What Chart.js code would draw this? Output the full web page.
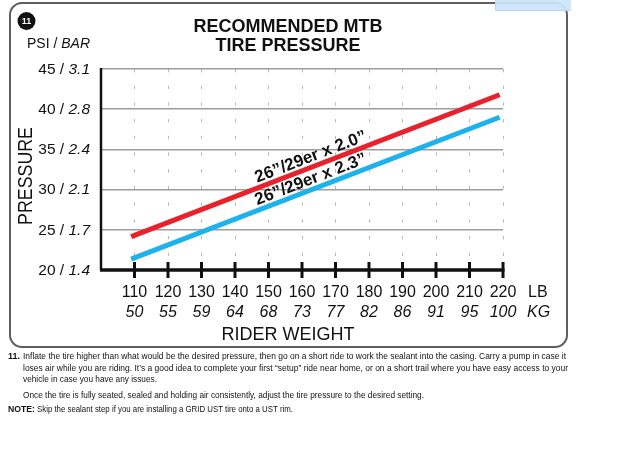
<!DOCTYPE html>
<html>
<head>
    <title>Recommended MTB Tire Pressure</title>
    <script src="https://cdn.jsdelivr.net/npm/chart.js"></script>
    <style>
        body { margin: 0; background: #fff; }
    </style>
</head>
<body>
    <canvas id="myChart" width="640" height="456"></canvas>
    <script>
        // values
        const weightsLb = [109, 219];
        const pressure20 = [24.15, 41.8];   // 26"/29er x 2.0"
        const pressure23 = [21.35, 39.0];   // 26"/29er x 2.3"
        const seriesLabels = ['26”/29er x 2.0”', '26”/29er x 2.3”'];
        const lbTicks = [110, 120, 130, 140, 150, 160, 170, 180, 190, 200, 210, 220];
        const kgTicks = ['50', '55', '59', '64', '68', '73', '77', '82', '86', '91', '95', '100'];
        const psiTicks = [20, 25, 30, 35, 40, 45];
        const barTicks = ['1.4', '1.7', '2.1', '2.4', '2.8', '3.1'];

        const notes = [
            'Inflate the tire higher than what would be the desired pressure, then go on a short ride to work the sealant into the casing. Carry a pump in case it',
            'loses air while you are riding. It’s a good idea to complete your first “setup” ride near home, or on a short trail where you have easy access to your',
            'vehicle in case you have any issues.',
            'Once the tire is fully seated, sealed and holding air consistently, adjust the tire pressure to the desired setting.',
            'Skip the sealant step if you are installing a GRID UST tire onto a UST rim.'
        ];

        const FONT = '"Liberation Sans", Arial, sans-serif';
        const NARROW = '"Liberation Sans Narrow", "Liberation Sans", Arial, sans-serif';

        // draws "normal + italic" pieces aligned at x
        function mixedText(c, normal, italic, x, y, size, align) {
            c.font = size + 'px ' + FONT;
            const w1 = c.measureText(normal).width;
            c.font = 'italic ' + size + 'px ' + FONT;
            const w2 = c.measureText(italic).width;
            let start = x;
            if (align === 'right') start = x - w1 - w2;
            if (align === 'center') start = x - (w1 + w2) / 2;
            c.textAlign = 'left';
            c.font = size + 'px ' + FONT;
            c.fillText(normal, start, y);
            c.font = 'italic ' + size + 'px ' + FONT;
            c.fillText(italic, start + w1, y);
        }

        const decor = {
            id: 'decor',
            beforeDraw(chart) {
                const c = chart.ctx;
                c.save();
                // frame
                c.strokeStyle = '#5e5e5e';
                c.lineWidth = 2;
                c.beginPath();
                c.roundRect(10, 3, 557, 344, 12);
                c.stroke();
                // little blue tab top right
                c.fillStyle = 'rgba(204, 228, 251, 0.93)';
                c.fillRect(495, 0, 76, 10.5);
                c.strokeStyle = '#bcd5ee';
                c.lineWidth = 1;
                c.beginPath();
                c.moveTo(495.5, 0);
                c.lineTo(495.5, 10.5);
                c.lineTo(571, 10.5);
                c.stroke();
                c.restore();
            },
            afterDraw(chart) {
                const c = chart.ctx;
                const area = chart.chartArea;
                const xs = chart.scales.x;
                const ys = chart.scales.y;
                c.save();
                c.fillStyle = '#111';
                c.textBaseline = 'middle';

                // badge
                c.beginPath();
                c.arc(26.5, 21, 9, 0, Math.PI * 2);
                c.fill();
                c.fillStyle = '#fff';
                c.font = 'bold 9px ' + FONT;
                c.textAlign = 'center';
                c.fillText('11', 26.5, 21.5);
                c.fillStyle = '#111';

                // title
                c.font = 'bold 18px ' + FONT;
                c.fillText('RECOMMENDED MTB', 288, 27);
                c.fillText('TIRE PRESSURE', 288, 46);

                // unit header
                mixedText(c, 'PSI / ', 'BAR', 90, 44, 14, 'right');

                // y title
                c.save();
                c.translate(26, 176);
                c.rotate(-Math.PI / 2);
                c.font = '20px ' + FONT;
                c.textAlign = 'center';
                c.fillText('PRESSURE', 0, 0, 98);
                c.restore();

                // y tick labels
                psiTicks.forEach((v, i) => {
                    mixedText(c, v + ' / ', barTicks[i], 90, ys.getPixelForValue(v) + 0.5, 15.5, 'right');
                });

                // axes
                c.strokeStyle = '#111';
                c.lineWidth = 2.5;
                c.beginPath();
                c.moveTo(area.left, area.top - 1);
                c.lineTo(area.left, area.bottom);
                c.stroke();
                c.lineWidth = 3.5;
                c.beginPath();
                c.moveTo(area.left - 1, area.bottom);
                c.lineTo(area.right + 1.5, area.bottom);
                c.stroke();
                c.lineWidth = 3;
                lbTicks.forEach(v => {
                    const px = xs.getPixelForValue(v);
                    c.beginPath();
                    c.moveTo(px, area.bottom - 8);
                    c.lineTo(px, area.bottom + 8);
                    c.stroke();
                });

                // x tick labels
                c.textAlign = 'center';
                lbTicks.forEach((v, i) => {
                    const px = xs.getPixelForValue(v);
                    c.font = '16px ' + FONT;
                    c.fillText(String(v), px, 293);
                    c.font = 'italic 16px ' + FONT;
                    c.fillText(kgTicks[i], px, 313);
                });
                c.textAlign = 'left';
                c.font = '16px ' + FONT;
                c.fillText('LB', 528, 293);
                c.font = 'italic 16px ' + FONT;
                c.fillText('KG', 527, 313);
                c.textAlign = 'center';
                c.font = '18px ' + FONT;
                c.fillText('RIDER WEIGHT', 288, 335);

                // labels along the lines
                chart.data.datasets.forEach((ds, i) => {
                    const pts = chart.getDatasetMeta(i).data;
                    const p0 = pts[0], p1 = pts[pts.length - 1];
                    const ang = Math.atan2(p1.y - p0.y, p1.x - p0.x);
                    const lx = xs.getPixelForValue(147.2);
                    const ly = p0.y + (lx - p0.x) * (p1.y - p0.y) / (p1.x - p0.x);
                    c.save();
                    c.translate(lx, ly);
                    c.rotate(ang);
                    c.textAlign = 'left';
                    c.textBaseline = 'alphabetic';
                    c.font = 'bold 17px ' + FONT;
                    c.fillStyle = '#111';
                    c.fillText(seriesLabels[i], 0, -5);
                    c.restore();
                });

                // notes under the chart
                c.textAlign = 'left';
                c.textBaseline = 'middle';
                c.font = 'bold 9px ' + NARROW;
                c.fillText('11.', 8, 357, 12);
                c.font = '9px ' + NARROW;
                c.fillText(notes[0], 23, 357, 543);
                c.fillText(notes[1], 23, 369, 545);
                c.fillText(notes[2], 23, 380, 134);
                c.fillText(notes[3], 23, 396, 401);
                c.font = 'bold 9px ' + NARROW;
                c.fillText('NOTE:', 8, 410, 27);
                c.font = '9px ' + NARROW;
                c.fillText(notes[4], 37, 410, 256);
                c.restore();
            }
        };

        const ctx = document.getElementById('myChart').getContext('2d');
        const myChart = new Chart(ctx, {
            type: 'line',
            data: {
                datasets: [{
                    label: seriesLabels[0],
                    data: weightsLb.map((x, i) => ({ x: x, y: pressure20[i] })),
                    borderColor: '#e8222c',
                    borderWidth: 5,
                    pointRadius: 0,
                    borderCapStyle: 'butt'
                }, {
                    label: seriesLabels[1],
                    data: weightsLb.map((x, i) => ({ x: x, y: pressure23[i] })),
                    borderColor: '#1eb2ec',
                    borderWidth: 5,
                    pointRadius: 0,
                    borderCapStyle: 'butt'
                }]
            },
            options: {
                responsive: false,
                animation: false,
                devicePixelRatio: 1,
                layout: { padding: { left: 101, top: 69, right: 137, bottom: 186 } },
                plugins: {
                    legend: { display: false },
                    tooltip: { enabled: false }
                },
                scales: {
                    x: {
                        type: 'linear',
                        min: 100,
                        max: 220,
                        ticks: { display: false, stepSize: 10 },
                        grid: { color: '#b8b8b8', lineWidth: 1, drawTicks: false },
                        border: { display: false, dash: [3.3, 13.4] }
                    },
                    y: {
                        min: 20,
                        max: 45,
                        ticks: { display: false, stepSize: 5 },
                        grid: { color: '#9c9c9c', lineWidth: 1.5, drawTicks: false },
                        border: { display: false }
                    }
                }
            },
            plugins: [decor]
        });
    </script>
</body>
</html>
